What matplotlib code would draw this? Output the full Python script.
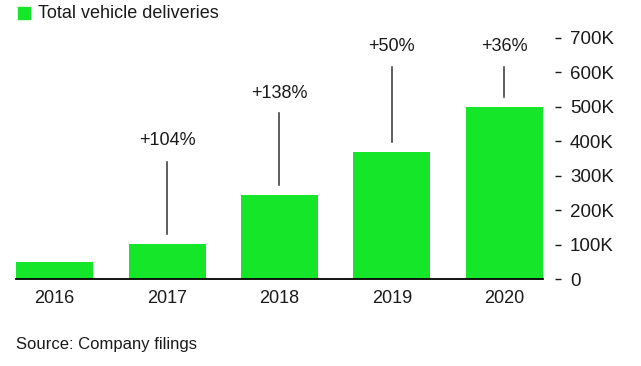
#!/usr/bin/env python3
"""Total vehicle deliveries bar chart with year-over-year growth labels."""

import matplotlib.pyplot as plt
from matplotlib.patches import Rectangle
from matplotlib.ticker import FuncFormatter

YEARS = ["2016", "2017", "2018", "2019", "2020"]
DELIVERIES_K = [50.5, 103.0, 245.0, 367.5, 499.5]
GROWTH = ["", "+104%", "+138%", "+50%", "+36%"]
Y_TICKS_K = [0, 100, 200, 300, 400, 500, 600, 700]

# layout of the growth callouts (thousands on the value axis)
LABEL_Y = [None, 401, 540, 674, 674]
LINE_TOP = [None, 340, 482, 616, 616]
LINE_GAP = 29

GREEN = "#16E629"
INK = "#1A1A1A"

plt.rcParams["font.family"] = ["Liberation Sans", "DejaVu Sans"]

fig = plt.figure(figsize=(6.41, 3.66), dpi=100)
ax = fig.add_axes([0.025, 0.2377, 0.822, 0.6585])

x = range(len(YEARS))
ax.bar(x, DELIVERIES_K, width=0.685, color=GREEN, zorder=2)

for i, label in enumerate(GROWTH):
  if not label:
    continue
  ax.plot([i, i], [DELIVERIES_K[i] + LINE_GAP, LINE_TOP[i]],
          color="#333333", linewidth=1.1, zorder=3)
  ax.text(i, LABEL_Y[i], label, ha="center", va="center",
          fontsize=13, color=INK)

ax.set_xlim(-0.343, 4.343)
ax.set_ylim(0, 700)
ax.set_xticks(list(x))
ax.set_xticklabels(YEARS)
ax.set_yticks(Y_TICKS_K)
ax.yaxis.set_major_formatter(
    FuncFormatter(lambda v, _: "0" if v == 0 else f"{int(v)}K"))

for side in ["top", "left"]:
  ax.spines[side].set_visible(False)
ax.spines["right"].set_position(("outward", 8.6))
ax.spines["right"].set_color("none")
ax.spines["bottom"].set_color("black")
ax.spines["bottom"].set_linewidth(1.3)
ax.spines["bottom"].set_zorder(4)

ax.yaxis.tick_right()
ax.tick_params(axis="y", length=4.3, width=1.0, color=INK, pad=6.5,
               labelsize=13.5, labelcolor=INK)
ax.tick_params(axis="x", length=0, pad=8, labelsize=13, labelcolor=INK)

fig.patches.append(Rectangle((18 / 641, 1 - 19 / 366), 12 / 641, 12 / 366,
                             transform=fig.transFigure, color=GREEN))
fig.text(38 / 641, 1 - 13 / 366, "Total vehicle deliveries", ha="left",
         va="center", fontsize=13, color=INK)
fig.text(16 / 641, 1 - 345 / 366, "Source: Company filings", ha="left",
         va="center", fontsize=12, color=INK)

fig.savefig("out.png", dpi=100)
